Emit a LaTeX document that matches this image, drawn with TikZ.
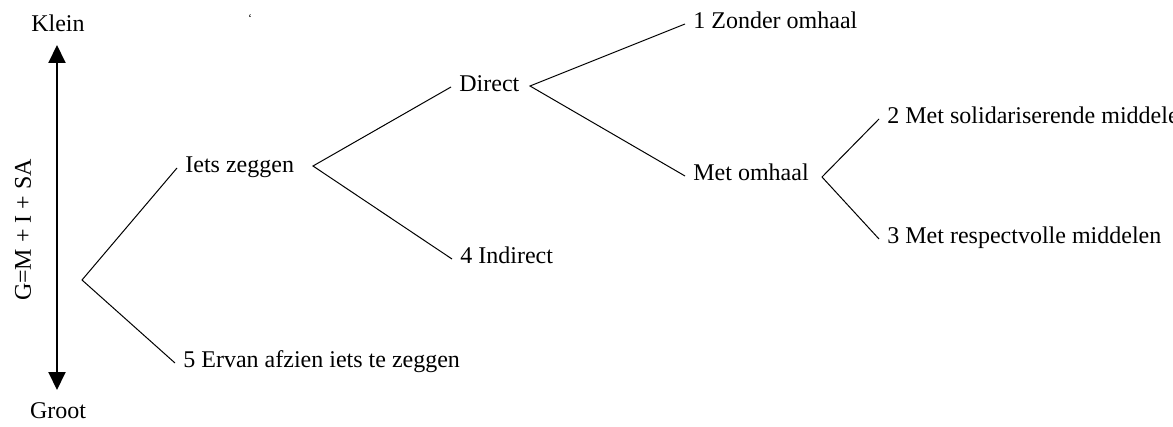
\documentclass[tikz,border=0pt]{standalone}
\usepackage{fontspec}
\setmainfont{Liberation Serif}
\usetikzlibrary{arrows.meta}
\begin{document}
\begin{tikzpicture}[x=0.5pt,y=-0.5pt,
  lbl/.style={anchor=west,inner xsep=4pt,inner ysep=0pt,
    text height=0.7em,text depth=0.25em,font=\fontsize{12}{14}\selectfont},
  branch/.style={line width=0.5pt},
  scale arrow/.style={line width=1pt,
    {Triangle[length=9pt,width=8.5pt]}-{Triangle[length=9pt,width=8.5pt]}}]
\useasboundingbox (0,0) rectangle (1173,427);
\clip (0,0) rectangle (1173,427);

% vertical scale with its ends and the formula
\node[font=\fontsize{12}{14}\selectfont] (klein) at (58,23) {Klein};
\node[font=\fontsize{12}{14}\selectfont] (groot) at (58,411) {Groot};
\coordinate (top) at (57,45);
\coordinate (bottom) at (57,390);
\draw[scale arrow] (top) -- (bottom);
\node[rotate=90,font=\fontsize{12}{14}\selectfont] (formula) at (23,230) {G=M + I + SA};
\node[font=\fontsize{6}{6}\selectfont] (tick) at (250,19) {‘};

% branching points
\coordinate (v0) at (82,280);
\coordinate (v1) at (313,166);
\coordinate (v2) at (530,86);
\coordinate (v3) at (822,177);

% options
\node[lbl] (iets)     at (177,168) {Iets zeggen};
\node[lbl] (ervan)    at (175,363) {5 Ervan afzien iets te zeggen};
\node[lbl] (direct)   at (451,87)  {Direct};
\node[lbl] (indirect) at (452,259) {4 Indirect};
\node[lbl] (zonder)   at (685,24)  {1 Zonder omhaal};
\node[lbl] (met)      at (685,176) {Met omhaal};
\node[lbl] (solid)    at (879,119) {2 Met solidariserende middelen};
\node[lbl] (respect)  at (879,239) {3 Met respectvolle middelen};

% tree branches
\draw[branch] (iets.west) -- (v0) -- (ervan.west);
\draw[branch] (direct.west) -- (v1) -- (indirect.west);
\draw[branch] (zonder.west) -- (v2) -- (met.west);
\draw[branch] (solid.west) -- (v3) -- (respect.west);
\end{tikzpicture}
\end{document}
